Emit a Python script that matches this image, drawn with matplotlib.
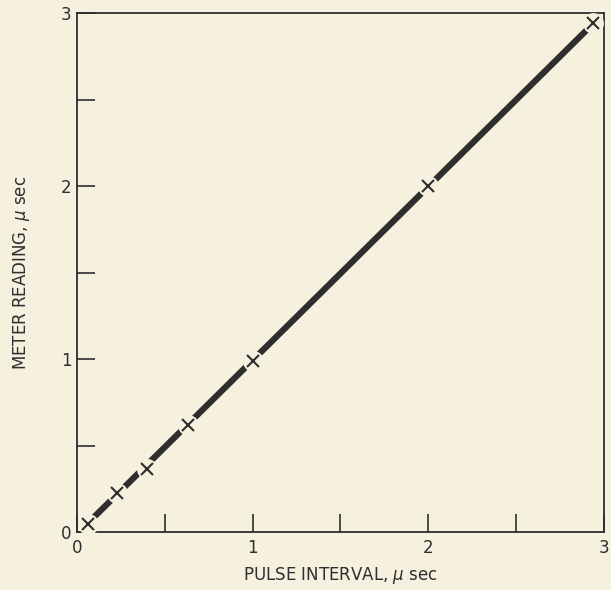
import matplotlib
matplotlib.use('Agg')
import matplotlib.pyplot as plt

# pulse interval (usec) vs meter reading (usec)
pulse = [0.06, 0.23, 0.40, 0.63, 1.0, 2.0, 2.94]
meter = [0.05, 0.225, 0.365, 0.62, 0.99, 2.0, 2.94]
ticks_major = [0, 1, 2, 3]
ticks_minor = [0.5, 1.5, 2.5]

bg = '#f6f1df'
ink = '#2e2e2e'

plt.rcParams['font.family'] = ['DejaVu Sans']

fig = plt.figure(figsize=(6.11, 5.90), dpi=100, facecolor=bg)
ax = fig.add_axes([0.126, 0.098, 0.8625, 0.880])
ax.set_facecolor(bg)

# fitted line, broken around the points
ax.plot([pulse[0], pulse[-1]], [meter[0], meter[-1]], color=ink, lw=4.5,
        solid_capstyle='butt', zorder=2)
ax.plot(pulse, meter, ls='none', marker='o', ms=15, mew=0, color=bg, zorder=3)
ax.plot(pulse, meter, ls='none', marker='x', ms=9, mew=1.5, color=ink, zorder=4)

ax.set_xlim(0, 3)
ax.set_ylim(0, 3)
ax.set_xticks(ticks_major)
ax.set_yticks(ticks_major)
ax.set_xticks(ticks_minor, minor=True)
ax.set_yticks(ticks_minor, minor=True)
ax.tick_params(which='both', direction='in', length=13, width=1.2, color=ink,
               labelsize=12, labelcolor=ink)
ax.tick_params(axis='x', pad=5)
ax.tick_params(axis='y', pad=4)
for s in ax.spines.values():
    s.set_color(ink)
    s.set_linewidth(1.3)

ax.set_xlabel('PULSE INTERVAL, $\\mu$ sec', fontsize=12, color=ink, labelpad=6)
ax.set_ylabel('METER READING, $\\mu$ sec', fontsize=12, color=ink, labelpad=21)

plt.savefig('out.png', dpi=100, facecolor=bg)
